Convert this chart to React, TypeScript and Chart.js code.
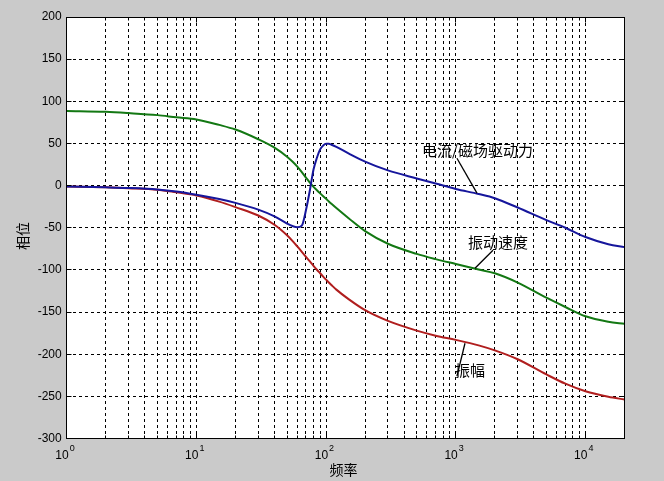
import React, { useEffect, useRef } from "react";
import { Chart, registerables } from "chart.js";

Chart.register(...registerables);

// ---- data ----
const frequencies = [
  1, 2, 3, 5, 7, 10, 15, 20, 30, 40, 50, 55, 60, 65, 70, 75, 80, 85, 90, 95, 100,
  105, 110, 120, 150, 200, 300, 500, 700, 1000, 1500, 2000, 3000, 5000, 7000,
  10000, 15000, 20000,
];

// 电流/磁场驱动力 (blue)
const drivePhase = [
  -1, -2, -2.8, -4.6, -7, -10.8, -16, -20.5, -28.5, -36.5, -45, -48, -49.5, -47.5,
  -29, -5.5, 19, 33, 43, 47.5, 49.5, 49.5, 48.5, 46, 38, 28.5, 18, 8.5, 2.5, -4,
  -10, -15, -26, -41, -50, -61, -69.5, -73,
];

// 振动速度 (green)
const velocityPhase = [
  88.5, 87.5, 86, 83.6, 81, 78.5, 72, 66.5, 55, 45, 34.3, 28.5, 22.5, 16, 9.5,
  3.5, -1.5, -5.5, -9.2, -12.6, -15.7, -18.8, -21.6, -26.7, -39, -54, -69, -81,
  -87.2, -93, -99.5, -104, -115, -133, -144, -155, -161.5, -164,
];

// 振幅 (red)
const amplitudePhase = [
  -1, -2, -3, -4.8, -8, -11.8, -19, -25.5, -35.5, -46.5, -59, -65.6, -72.2,
  -78.5, -84.5, -90, -95.2, -99.8, -104, -108, -111.6, -115, -118, -123.4, -135,
  -147.8, -160.5, -172, -178, -183, -189.5, -195.5, -206, -224, -235, -244,
  -250.5, -253.7,
];

const yTickValues = [-300, -250, -200, -150, -100, -50, 0, 50, 100, 150, 200];
const xDecadeValues = [1, 10, 100, 1000, 10000];
const xDecadeExponents = ["0", "1", "2", "3", "4"];
const xMin = 1;
const xMax = 20000;

const xTitle = "频率";
const yTitle = "相位";

const annotationTexts = ["电流/磁场驱动力", "振动速度", "振幅"];
// text anchor (frequency, phase) and leader line endpoints
const annotationTextAt = [
  [549, 42],
  [1243, -67],
  [986, -219],
];
const annotationLineFrom = [
  [1021, 32.5],
  [1937, -76.7],
  [1178, -187],
];
const annotationLineTo = [
  [1457, -9],
  [1406, -98],
  [1021, -226],
];

const seriesColors = ["#16169c", "#137813", "#b01e1e"];

// grid positions for the log axis: 1..9 x 10^k
const xGridValues: number[] = [];
for (let k = 0; k <= 4; k++) {
  for (let m = 1; m <= 9; m++) {
    const v = m * Math.pow(10, k);
    if (v <= xMax) xGridValues.push(v);
  }
}
if (xGridValues[xGridValues.length - 1] !== xMax) xGridValues.push(xMax);

const CJK = '"Noto Sans CJK SC", "Noto Sans", sans-serif';
const LATIN = '"Liberation Sans", Arial, sans-serif';

export default function App() {
  const ref = useRef<HTMLCanvasElement>(null);

  useEffect(() => {
    const canvas = ref.current;
    if (!canvas) return;

    const mk = (vals: number[], color: string, label: string) => ({
      label,
      data: frequencies.map((f, i) => ({ x: f, y: vals[i] })),
      borderColor: color,
      backgroundColor: color,
      borderWidth: 2,
      pointRadius: 0,
      cubicInterpolationMode: "monotone" as const,
      fill: false,
    });

    const bgPlugin = {
      id: "bg",
      beforeDraw(chart: any) {
        const { ctx, chartArea } = chart;
        ctx.save();
        ctx.fillStyle = "#cacaca";
        ctx.fillRect(0, 0, chart.width, chart.height);
        ctx.fillStyle = "#ffffff";
        ctx.fillRect(
          chartArea.left,
          chartArea.top,
          chartArea.right - chartArea.left,
          chartArea.bottom - chartArea.top
        );
        ctx.restore();
      },
    };

    const decorPlugin = {
      id: "decor",
      afterDraw(chart: any) {
        const { ctx, chartArea } = chart;
        const xs = chart.scales.x;
        const ys = chart.scales.y;
        const L = Math.round(chartArea.left - 0.5) + 0.5;
        const R = Math.round(chartArea.right - 0.5) + 0.5;
        const T = Math.round(chartArea.top - 0.5) + 0.5;
        const B = Math.round(chartArea.bottom - 0.5) + 0.5;
        ctx.save();
        ctx.strokeStyle = "#000";
        ctx.lineWidth = 1;
        ctx.setLineDash([]);
        ctx.strokeRect(L, T, R - L, B - T);

        // inward tick marks
        ctx.beginPath();
        yTickValues.forEach((v) => {
          const y = Math.round(ys.getPixelForValue(v) - 0.5) + 0.5;
          ctx.moveTo(L, y);
          ctx.lineTo(L + 5, y);
          ctx.moveTo(R, y);
          ctx.lineTo(R - 5, y);
        });
        xGridValues.forEach((v) => {
          const x = Math.round(xs.getPixelForValue(v) - 0.5) + 0.5;
          const major = xDecadeValues.includes(v);
          const len = major ? 5 : 3;
          ctx.moveTo(x, B);
          ctx.lineTo(x, B - len);
          ctx.moveTo(x, T);
          ctx.lineTo(x, T + len);
        });
        ctx.stroke();

        // x tick labels: 10 with superscript exponent
        ctx.fillStyle = "#000";
        xDecadeValues.forEach((v, i) => {
          const x = xs.getPixelForValue(v);
          ctx.font = `12px ${LATIN}`;
          ctx.textAlign = "right";
          ctx.textBaseline = "alphabetic";
          ctx.fillText("10", x + 2, 459);
          ctx.font = `9px ${LATIN}`;
          ctx.textAlign = "left";
          ctx.fillText(xDecadeExponents[i], x + 3, 451);
        });

        // axis titles
        ctx.font = `14px ${CJK}`;
        ctx.textAlign = "center";
        ctx.textBaseline = "middle";
        ctx.fillText(xTitle, 343.5, 470);
        ctx.save();
        ctx.translate(23, 236);
        ctx.rotate(-Math.PI / 2);
        ctx.fillText(yTitle, 0, 0);
        ctx.restore();

        // annotations
        ctx.font = `15px ${CJK}`;
        ctx.textAlign = "left";
        ctx.textBaseline = "middle";
        annotationTexts.forEach((t, i) => {
          const [tf, tv] = annotationTextAt[i];
          ctx.fillText(t, xs.getPixelForValue(tf), ys.getPixelForValue(tv));
          const [f1, v1] = annotationLineFrom[i];
          const [f2, v2] = annotationLineTo[i];
          ctx.beginPath();
          ctx.lineWidth = 1.3;
          ctx.moveTo(xs.getPixelForValue(f1), ys.getPixelForValue(v1));
          ctx.lineTo(xs.getPixelForValue(f2), ys.getPixelForValue(v2));
          ctx.stroke();
        });
        ctx.restore();
      },
    };

    const chart = new Chart(canvas, {
      type: "line",
      data: {
        datasets: [
          mk(drivePhase, seriesColors[0], annotationTexts[0]),
          mk(velocityPhase, seriesColors[1], annotationTexts[1]),
          mk(amplitudePhase, seriesColors[2], annotationTexts[2]),
        ] as any,
      },
      options: {
        animation: false,
        responsive: false,
        devicePixelRatio: 1,
        layout: { padding: { top: 17, right: 39.5, left: 0, bottom: 0 } },
        plugins: {
          legend: { display: false },
          tooltip: { enabled: false },
          title: { display: false },
        },
        scales: {
          x: {
            type: "logarithmic",
            min: xMin,
            max: xMax,
            afterBuildTicks: (s: any) => {
              s.ticks = xGridValues.map((v) => ({ value: v }));
            },
            afterFit: (s: any) => {
              s.height = 42.5;
            },
            ticks: { display: false, autoSkip: false },
            grid: { color: "#000", lineWidth: 1, drawTicks: false },
            border: { display: true, color: "#000", width: 1, dash: [3, 3] },
          },
          y: {
            type: "linear",
            min: -300,
            max: 200,
            afterBuildTicks: (s: any) => {
              s.ticks = yTickValues.map((v) => ({ value: v }));
            },
            afterFit: (s: any) => {
              s.width = 66.7;
            },
            ticks: {
              color: "#000",
              font: { family: LATIN, size: 12 },
              padding: 5,
              autoSkip: false,
              callback: (v: any) => String(v),
            },
            grid: { color: "#000", lineWidth: 1, drawTicks: false },
            border: { display: true, color: "#000", width: 1, dash: [3, 3] },
          },
        },
      } as any,
      plugins: [bgPlugin, decorPlugin],
    });

    return () => chart.destroy();
  }, []);

  return (
    <div
      style={{
        position: "absolute",
        left: 0,
        top: 0,
        width: 664,
        height: 481,
        background: "#cacaca",
      }}
    >
      <canvas ref={ref} width={664} height={481} style={{ display: "block" }} />
    </div>
  );
}
